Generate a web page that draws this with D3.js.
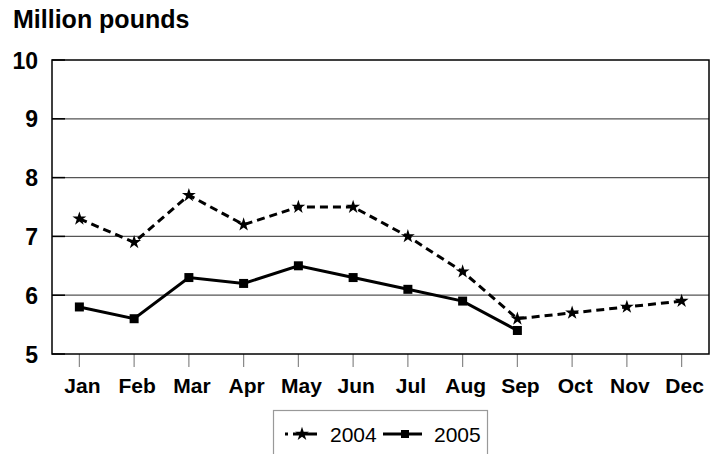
<!DOCTYPE html>
<html><head><meta charset="utf-8">
<script src="https://cdn.jsdelivr.net/npm/d3@7"></script>
<style>body{margin:0;background:#fff}svg{display:block}text{font-family:"Liberation Sans",Arial,sans-serif}</style>
</head><body><svg id="c" width="718" height="454"></svg>
<script>
const months = ["Jan","Feb","Mar","Apr","May","Jun","Jul","Aug","Sep","Oct","Nov","Dec"];
const values2004 = [7.3,6.9,7.7,7.2,7.5,7.5,7.0,6.4,5.6,5.7,5.8,5.9];
const values2005 = [5.8,5.6,6.3,6.2,6.5,6.3,6.1,5.9,5.4];
const yTicks = [5,6,7,8,9,10];
const seriesNames = ["2004","2005"];

const svg = d3.select("#c");
const L=52, R=709, T=60, B=354;
const x = d3.scaleBand().domain(months).range([L,R]);
const y = d3.scaleLinear().domain([5,10]).range([B,T]);
const cx = m => x(m)+x.bandwidth()/2;

svg.append("text").attr("x",13).attr("y",28).attr("font-size",25).attr("font-weight","bold").text("Million pounds");

// gridlines
svg.append("g").selectAll("line").data(yTicks.filter(v=>v>5&&v<10)).join("line")
  .attr("x1",L).attr("x2",R).attr("y1",d=>y(d)).attr("y2",d=>y(d)).attr("stroke","#555").attr("stroke-width",1.2);

// y axis
const ya = svg.append("g").attr("transform",`translate(${L},0)`).call(d3.axisLeft(y).tickValues(yTicks).tickSize(0).tickPadding(14).tickFormat(d3.format("d")));
ya.select(".domain").remove();
ya.selectAll("text").attr("font-size",23).attr("font-weight","bold").attr("fill","#000").attr("dy","0.35em");
// inward short ticks
svg.append("g").selectAll("line").data(yTicks).join("line")
  .attr("x1",L).attr("x2",L+13).attr("y1",d=>y(d)).attr("y2",d=>y(d)).attr("stroke","#000").attr("stroke-width",1.5);

// x axis
const xa = svg.append("g").attr("transform",`translate(0,${B})`).call(d3.axisBottom(x).tickSize(13).tickPadding(11));
xa.select(".domain").remove();
xa.selectAll("line").attr("stroke","#888").attr("stroke-width",1.2);
xa.selectAll("text").attr("font-size",21).attr("font-weight","bold").attr("fill","#000").attr("dx",3);

// frame
svg.append("rect").attr("x",L).attr("y",T).attr("width",R-L).attr("height",B-T).attr("fill","none").attr("stroke","#000").attr("stroke-width",1.5);

const line = d3.line().x((d,i)=>cx(months[i])).y(d=>y(d));
svg.append("path").datum(values2004).attr("d",line).attr("fill","none").attr("stroke","#000").attr("stroke-width",3).attr("stroke-dasharray","8,5");
svg.append("path").datum(values2005).attr("d",line).attr("fill","none").attr("stroke","#000").attr("stroke-width",3);

const star = d3.symbol().type(d3.symbolStar).size(60);
svg.append("g").selectAll("path").data(values2004).join("path")
  .attr("d",star).attr("transform",(d,i)=>`translate(${cx(months[i])},${y(d)})`).attr("fill","#000");
svg.append("g").selectAll("rect").data(values2005).join("rect")
  .attr("x",(d,i)=>cx(months[i])-4.5).attr("y",d=>y(d)-4.5).attr("width",9).attr("height",9).attr("fill","#000");

// legend
const lg = svg.append("g");
lg.append("rect").attr("x",273.5).attr("y",410.5).attr("width",214).attr("height",50).attr("fill","#fff").attr("stroke","#999").attr("stroke-width",1.2);
const ly=434;
lg.append("line").attr("x1",285).attr("x2",317).attr("y1",ly).attr("y2",ly).attr("stroke","#000").attr("stroke-width",3).attr("stroke-dasharray","3,5,24");
lg.append("path").attr("d",star).attr("transform",`translate(302,${ly})`);
lg.append("text").attr("x",330).attr("y",442).attr("font-size",21).text(seriesNames[0]);
lg.append("line").attr("x1",383).attr("x2",422).attr("y1",ly).attr("y2",ly).attr("stroke","#000").attr("stroke-width",3);
lg.append("rect").attr("x",401).attr("y",ly-4).attr("width",8).attr("height",8);
lg.append("text").attr("x",434).attr("y",442).attr("font-size",21).text(seriesNames[1]);
</script></body></html>
